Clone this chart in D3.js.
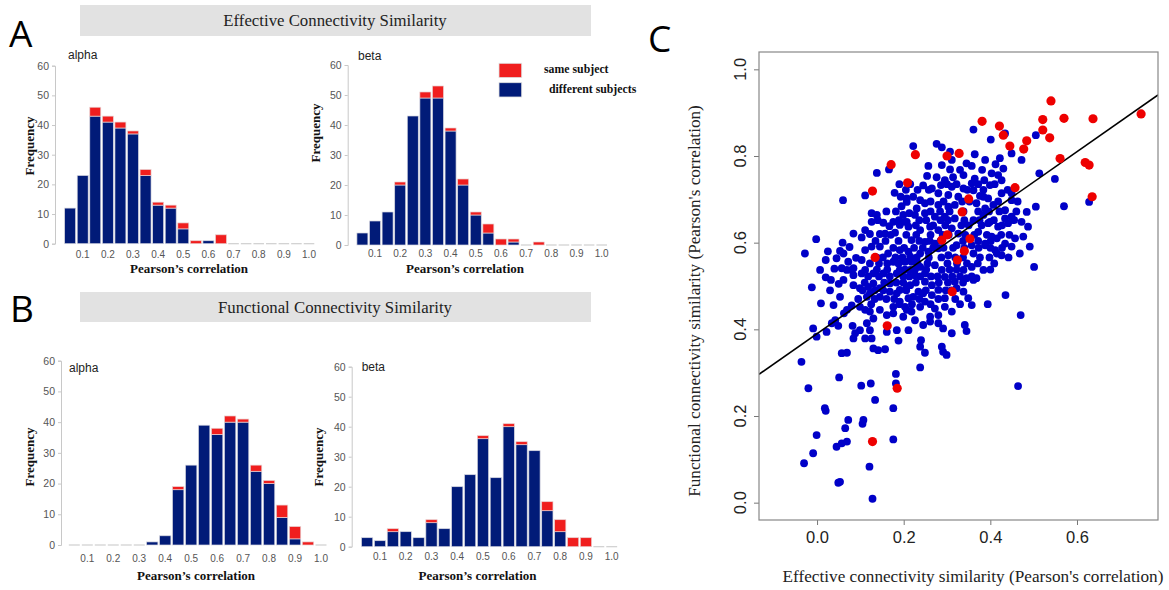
<!DOCTYPE html>
<html>
<head>
<meta charset="utf-8">
<script src="https://cdn.jsdelivr.net/npm/d3@7"></script>
<style>
  body { margin: 0; background: #fff; }
  svg { display: block; }
</style>
</head>
<body>
<svg id="fig" width="1169" height="590"></svg>
<script>
// ---- histogram data (bins of width 0.05, labelled by centre) ----
var binCenters = [0.05,0.10,0.15,0.20,0.25,0.30,0.35,0.40,0.45,0.50,0.55,0.60,0.65,0.70,0.75,0.80,0.85,0.90,0.95,1.00];
var xTickLabels = ["0.1","0.2","0.3","0.4","0.5","0.6","0.7","0.8","0.9","1.0"];
var freqTicks = [0,10,20,30,40,50,60];

var ecAlphaDiff = [12,23,43,41,39,37,23,13,12,5,0,1,0,0,0,0,0,0,0,0];
var ecAlphaSame = [0,0,3,2,2,1,2,1,1,2,1,0,3,0,0,0,0,0,0,0];
var ecBetaDiff  = [4,8,11,20,43,49,49,38,20,10,4,0,1,0,0,0,0,0,0,0];
var ecBetaSame  = [0,0,0,1,0,2,4,1,2,1,3,2,1,0,1,0,0,0,0,0];
var fcAlphaDiff = [0,0,0,0,0,0,1,3,18,26,39,36,40,40,24,20,9,2,0,0];
var fcAlphaSame = [0,0,0,0,0,0,0,0,1,0,0,2,2,1,2,1,4,4,1,0];
var fcBetaDiff  = [3,2,5,5,3,8,6,20,24,36,23,40,34,32,12,5,0,0,0,0];
var fcBetaSame  = [0,0,1,0,0,1,0,0,0,1,0,1,1,0,3,4,3,3,0,0];

// ---- scatter data: [effective, functional] ----
var sameSubject = [
  [0.171,0.780],[0.227,0.803],[0.209,0.738],[0.128,0.719],[0.134,0.566],[0.162,0.408],[0.185,0.264],[0.128,0.141],
  [0.540,0.927],[0.381,0.880],[0.421,0.869],[0.430,0.848],[0.521,0.884],[0.570,0.887],[0.637,0.886],[0.748,0.897],
  [0.521,0.860],[0.537,0.842],[0.445,0.823],[0.484,0.835],[0.477,0.816],[0.300,0.800],[0.328,0.806],[0.561,0.794],
  [0.619,0.785],[0.628,0.779],[0.457,0.727],[0.635,0.706],[0.350,0.701],[0.335,0.671],[0.301,0.618],[0.288,0.606],
  [0.353,0.609],[0.340,0.581],[0.324,0.560],[0.312,0.487]
];
var diffSubject = [
  [0.222,0.823],[0.166,0.769],[0.138,0.761],[0.111,0.709],[0.060,0.698],[0.179,0.715],[0.193,0.706],[0.207,0.702],
  [0.222,0.706],[0.245,0.732],[0.257,0.777],[0.254,0.754],[0.126,0.668],[0.138,0.664],[0.153,0.646],[0.176,0.648],
  [0.126,0.648],[0.084,0.621],[0.111,0.629],[0.103,0.612],[0.122,0.620],[0.145,0.620],[0.157,0.621],[0.180,0.623],
  [0.191,0.641],[0.201,0.648],[0.213,0.668],[0.230,0.679],[0.249,0.691],[0.059,0.600],[-0.002,0.608],[-0.028,0.575],
  [0.020,0.560],[0.045,0.564],[0.061,0.575],[0.111,0.583],[0.126,0.591],[0.145,0.591],[0.164,0.575],[0.191,0.583],
  [0.215,0.568],[0.238,0.575],[0.007,0.537],[0.032,0.514],[0.057,0.541],[0.072,0.556],[0.080,0.537],[0.103,0.560],
  [0.111,0.537],[0.130,0.529],[0.153,0.529],[0.176,0.556],[0.191,0.537],[0.215,0.537],[0.238,0.544],[-0.012,0.497],
  [0.009,0.460],[0.038,0.456],[0.053,0.475],[0.061,0.514],[0.084,0.502],[0.099,0.495],[0.115,0.475],[0.130,0.506],
  [0.145,0.495],[0.168,0.506],[0.184,0.483],[0.207,0.498],[0.222,0.475],[0.245,0.483],[0.069,0.445],[0.099,0.452],
  [0.145,0.445],[0.176,0.452],[0.207,0.445],[0.238,0.452],
  [0.207,0.694],[0.195,0.684],[0.167,0.638],[0.207,0.648],[0.199,0.664],[0.053,0.581],[0.122,0.552],[0.084,0.541],
  [0.069,0.537],[0.103,0.529],[0.203,0.556],
  [0.084,0.525],[0.184,0.529],[0.118,0.498],[0.191,0.491],[0.122,0.483],[0.145,0.475],[0.168,0.487],[0.191,0.464],
  [0.203,0.452],[0.111,0.445],[0.122,0.441],[0.161,0.433],[0.176,0.437],[0.199,0.429],[0.042,0.421],[0.062,0.437],
  [0.034,0.414],[0.049,0.408],[0.082,0.408],[0.115,0.414],[0.130,0.425],[-0.009,0.402],[0.022,0.394],[0.088,0.391],
  [0.099,0.398],[0.122,0.398],[0.161,0.394],[0.184,0.398],[0.211,0.398],[0.084,0.379],[0.111,0.379],[0.126,0.379],
  [0.188,0.374],[0.130,0.356],[0.141,0.352],[0.157,0.354],[0.057,0.345],[0.069,0.346],[-0.036,0.325],[0.051,0.289],
  [-0.020,0.264],[0.102,0.270],[0.124,0.275],[0.182,0.297],[0.182,0.275],[0.134,0.237],[0.018,0.218],[0.176,0.218],
  [-0.001,0.383],[0.020,0.212],[0.072,0.191],[0.065,0.172],[0.107,0.191],[0.105,0.182],[-0.001,0.156],[0.045,0.129],
  [0.057,0.137],[0.069,0.141],[0.176,0.146],[-0.009,0.114],[-0.030,0.091],[0.121,0.083],[0.049,0.046],[0.053,0.048],
  [0.128,0.009],[0.238,0.360],[0.249,0.346],[0.238,0.312],
  [0.361,0.575],[0.388,0.594],[0.411,0.583],[0.426,0.571],[0.449,0.591],[0.468,0.575],[0.338,0.537],[0.357,0.544],
  [0.384,0.537],[0.368,0.518],[0.345,0.518],[0.318,0.510],[0.295,0.521],[0.280,0.491],[0.265,0.502],[0.249,0.510],
  [0.338,0.487],[0.349,0.472],[0.357,0.456],[0.394,0.458],[0.435,0.479],[0.470,0.433],[0.311,0.441],[0.272,0.448],
  [0.261,0.429],[0.280,0.433],[0.295,0.472],[0.249,0.464],[0.218,0.441],[0.261,0.418],[0.280,0.414],[0.291,0.402],
  [0.311,0.391],[0.341,0.410],[0.345,0.396],[0.240,0.375],[0.288,0.360],[0.291,0.348],[0.299,0.341],[0.464,0.269],
  [0.211,0.579],[0.257,0.579],[0.280,0.587],[0.303,0.571],[0.218,0.556],[0.272,0.548],[0.288,0.537],[0.226,0.525],
  [0.249,0.529],[0.215,0.502],[0.234,0.487],[0.265,0.479],[0.211,0.472],[0.295,0.452],[0.226,0.421],[0.245,0.410],
  [0.361,0.861],[0.401,0.838],[0.434,0.852],[0.449,0.806],[0.472,0.791],[0.276,0.828],[0.288,0.820],[0.307,0.810],
  [0.364,0.804],[0.388,0.791],[0.422,0.795],[0.412,0.781],[0.430,0.771],[0.403,0.760],[0.381,0.768],[0.357,0.777],
  [0.330,0.768],[0.307,0.769],[0.288,0.779],[0.276,0.751],[0.295,0.744],[0.314,0.751],[0.338,0.756],[0.364,0.748],
  [0.386,0.744],[0.426,0.744],[0.399,0.733],[0.357,0.737],[0.338,0.725],[0.311,0.729],[0.286,0.733],[0.265,0.725],
  [0.280,0.714],[0.303,0.710],[0.326,0.706],[0.361,0.721],[0.376,0.708],[0.395,0.702],[0.426,0.714],[0.449,0.698],
  [0.238,0.698],[0.280,0.687],[0.303,0.683],[0.318,0.687],[0.368,0.691],[0.388,0.679],[0.407,0.687],[0.434,0.675],
  [0.449,0.660],[0.472,0.648],[0.226,0.664],[0.249,0.668],[0.272,0.660],[0.295,0.660],[0.318,0.656],[0.361,0.652],
  [0.384,0.664],[0.395,0.645],[0.418,0.637],[0.441,0.645],[0.211,0.637],[0.238,0.629],[0.261,0.637],[0.280,0.629],
  [0.311,0.633],[0.326,0.621],[0.372,0.625],[0.388,0.598],[0.415,0.610],[0.434,0.598],[0.457,0.610],[0.218,0.606],
  [0.249,0.602],[0.272,0.598],[0.322,0.594],[0.357,0.594],
  [0.505,0.848],[0.513,0.760],[0.549,0.747],[0.570,0.684],[0.628,0.694],[0.505,0.683],[0.484,0.671],[0.487,0.637],
  [0.476,0.614],[0.491,0.591],[0.501,0.544],[0.434,0.656],[0.415,0.575],[0.403,0.614],[0.399,0.648],[0.449,0.714],
  [0.418,0.756],[0.384,0.706],[0.361,0.514],[0.322,0.495],[0.311,0.791],[0.345,0.783],
  // dense core, where the dots overlap into a solid blob
  [0.190,0.735],[0.215,0.735],[0.300,0.735],[0.322,0.735],[0.372,0.735],[0.410,0.735],
  [0.205,0.722],[0.232,0.722],[0.258,0.722],[0.347,0.722],[0.384,0.722],[0.440,0.722],
  [0.262,0.695],[0.292,0.695],[0.335,0.695],[0.352,0.695],[0.418,0.695],[0.463,0.695],
  [0.160,0.672],[0.182,0.672],[0.262,0.672],[0.284,0.672],[0.306,0.672],[0.338,0.672],[0.372,0.672],[0.397,0.672],
  [0.421,0.672],[0.460,0.672],
  [0.140,0.652],[0.189,0.652],[0.236,0.652],[0.252,0.652],[0.285,0.652],[0.302,0.652],[0.340,0.652],[0.375,0.652],
  [0.408,0.652],[0.455,0.652],
  [0.228,0.640],[0.268,0.640],[0.296,0.640],[0.333,0.640],[0.350,0.640],[0.380,0.640],[0.427,0.640],
  [0.170,0.618],[0.206,0.618],[0.229,0.618],[0.262,0.618],[0.290,0.618],[0.304,0.618],[0.342,0.618],[0.363,0.618],
  [0.392,0.618],[0.425,0.618],[0.444,0.618],
  [0.135,0.604],[0.158,0.604],[0.188,0.604],[0.236,0.604],[0.260,0.604],[0.285,0.604],[0.337,0.604],[0.372,0.604],
  [0.401,0.604],
  [0.176,0.588],[0.201,0.588],[0.224,0.588],[0.244,0.588],[0.268,0.588],[0.292,0.588],[0.314,0.588],[0.340,0.588],
  [0.373,0.588],[0.400,0.588],[0.427,0.588],
  [0.138,0.566],[0.152,0.566],[0.181,0.566],[0.197,0.566],[0.230,0.566],[0.258,0.566],[0.287,0.566],[0.319,0.566],
  [0.337,0.566],[0.376,0.566],[0.398,0.566],[0.442,0.566],
  [0.143,0.552],[0.162,0.552],[0.188,0.552],[0.232,0.552],[0.255,0.552],[0.301,0.552],[0.323,0.552],[0.346,0.552],
  [0.371,0.552],[0.409,0.552],
  [0.138,0.538],[0.162,0.538],[0.203,0.538],[0.226,0.538],[0.252,0.538],[0.306,0.538],[0.322,0.538],[0.400,0.538],
  [0.118,0.522],[0.143,0.522],[0.168,0.522],[0.199,0.522],[0.213,0.522],[0.238,0.522],[0.263,0.522],[0.278,0.522],
  [0.312,0.522],[0.330,0.522],[0.357,0.522],
  [0.110,0.508],[0.155,0.508],[0.183,0.508],[0.199,0.508],[0.228,0.508],[0.281,0.508],[0.302,0.508],[0.337,0.508],
  [0.105,0.490],[0.133,0.490],[0.153,0.490],[0.206,0.490],[0.251,0.490],[0.297,0.490],[0.310,0.490],
  [0.133,0.470],[0.160,0.470],[0.178,0.470],[0.236,0.470],[0.280,0.470],[0.319,0.470],
  [0.125,0.458],[0.190,0.458],[0.219,0.458],[0.262,0.458],[0.330,0.458],
  [0.025,0.580],[0.040,0.540],[0.075,0.590],[0.090,0.565],[0.030,0.490],[0.050,0.505],[0.095,0.470],[0.080,0.455],
  [0.020,0.520]
];
var fitIntercept = 0.39, fitSlope = 0.70;
var scatterXTicks = [0.0,0.2,0.4,0.6];
var scatterYTicks = [0.0,0.2,0.4,0.6,0.8,1.0];

var navy = "#011b78", red = "#f01e1e";
var sansFont = "'Liberation Sans', Arial, sans-serif";
var serifFont = "'Liberation Serif', 'Times New Roman', serif";

var svg = d3.select("#fig");

draw_panel_letters();
draw_title_bar(5, 36, "Effective Connectivity Similarity");
draw_title_bar(292, 322, "Functional Connectivity Similarity");

draw_histogram({axisX: 55, y0: 243.7, y60: 65.7, x01: 82.7, x10: 309, tickY: 258,
  name: "alpha", nameX: 68, nameY: 59, freqX: 29, freqY: 146, labX: 189, labY: 273},
  ecAlphaDiff, ecAlphaSame);
draw_histogram({axisX: 347.7, y0: 245, y60: 65, x01: 375, x10: 601.7, tickY: 257,
  name: "beta", nameX: 358, nameY: 60, freqX: 315, freqY: 133, labX: 465, labY: 273},
  ecBetaDiff, ecBetaSame);
draw_histogram({axisX: 61, y0: 545, y60: 360.7, x01: 87.3, x10: 321, tickY: 561.5,
  name: "alpha", nameX: 69, nameY: 372, freqX: 29, freqY: 457, labX: 196, labY: 580},
  fcAlphaDiff, fcAlphaSame);
draw_histogram({axisX: 351.7, y0: 546.7, y60: 366.7, x01: 380, x10: 611.7, tickY: 560,
  name: "beta", nameX: 361.7, nameY: 371, freqX: 318, freqY: 457, labX: 477.5, labY: 580},
  fcBetaDiff, fcBetaSame);

draw_legend();
draw_scatter();

function draw_panel_letters() {
  var letters = [["A", 9, 47], ["B", 10, 322], ["C", 648, 52]];
  svg.selectAll("text.letter")
    .data(letters)
    .join("text")
      .attr("class", "letter")
      .attr("x", d => d[1])
      .attr("y", d => d[2])
      .attr("font-family", "'Open Sans', sans-serif")
      .attr("font-size", 37)
      .attr("fill", "#000")
      .text(d => d[0]);
}

function draw_title_bar(top, bottom, label) {
  svg.append("rect")
    .attr("x", 80).attr("y", top)
    .attr("width", 511).attr("height", bottom - top)
    .attr("fill", "#e2e2e2");
  svg.append("text")
    .attr("x", 335).attr("y", (top + bottom) / 2 + 5.5)
    .attr("text-anchor", "middle")
    .attr("font-family", serifFont)
    .attr("font-size", 16.8)
    .attr("fill", "#222")
    .text(label);
}

function draw_histogram(cfg, diff, same) {
  var x = d3.scaleLinear().domain([0.1, 1.0]).range([cfg.x01, cfg.x10]);
  var y = d3.scaleLinear().domain([0, 60]).range([cfg.y0, cfg.y60]);
  var half = (x(0.15) - x(0.1)) / 2;
  var g = svg.append("g");

  // y axis
  var yAxis = g.append("g")
    .attr("transform", "translate(" + cfg.axisX + ",0)")
    .call(d3.axisLeft(y).tickValues(freqTicks).tickSize(3).tickPadding(3));
  yAxis.select(".domain").attr("stroke", "#c8c8c8");
  yAxis.selectAll(".tick line").attr("stroke", "#c8c8c8");
  yAxis.selectAll(".tick text")
    .attr("fill", "#555").attr("font-size", 10.5).attr("font-family", sansFont);

  // x tick labels only
  g.selectAll("text.xtick")
    .data(xTickLabels)
    .join("text")
      .attr("class", "xtick")
      .attr("x", d => x(+d))
      .attr("y", cfg.tickY)
      .attr("text-anchor", "middle")
      .attr("font-family", sansFont)
      .attr("font-size", 10)
      .attr("fill", "#555")
      .text(d => d);

  var rows = binCenters.map((c, i) => ({c: c, diff: diff[i], same: same[i]}));

  // empty bins show as a short grey dash on the baseline
  g.selectAll("line.empty")
    .data(rows.filter(d => d.diff + d.same == 0))
    .join("line")
      .attr("x1", d => x(d.c) - half + 1)
      .attr("x2", d => x(d.c) + half - 1)
      .attr("y1", cfg.y0).attr("y2", cfg.y0)
      .attr("stroke", "#cfcfcf").attr("stroke-width", 1.2);

  g.selectAll("rect.diff")
    .data(rows.filter(d => d.diff > 0))
    .join("rect")
      .attr("x", d => x(d.c) - half + 0.8)
      .attr("width", 2 * half - 1.6)
      .attr("y", d => y(d.diff))
      .attr("height", d => y(0) - y(d.diff))
      .attr("fill", navy)
      .attr("stroke", "#d8d8e0").attr("stroke-width", 0.7);

  g.selectAll("rect.same")
    .data(rows.filter(d => d.same > 0))
    .join("rect")
      .attr("x", d => x(d.c) - half + 0.8)
      .attr("width", 2 * half - 1.6)
      .attr("y", d => y(d.diff + d.same))
      .attr("height", d => y(d.diff) - y(d.diff + d.same))
      .attr("fill", red)
      .attr("stroke", "#e8d0d0").attr("stroke-width", 0.7);

  g.append("text")
    .attr("x", cfg.nameX).attr("y", cfg.nameY)
    .attr("font-family", sansFont).attr("font-size", 12).attr("fill", "#222")
    .text(cfg.name);

  g.append("text")
    .attr("transform", "translate(" + cfg.freqX + "," + cfg.freqY + ") rotate(-90)")
    .attr("text-anchor", "middle")
    .attr("dominant-baseline", "central")
    .attr("font-family", serifFont).attr("font-weight", "bold").attr("font-size", 13)
    .attr("fill", "#111")
    .text("Frequency");

  g.append("text")
    .attr("x", cfg.labX).attr("y", cfg.labY)
    .attr("text-anchor", "middle")
    .attr("font-family", serifFont).attr("font-weight", "bold").attr("font-size", 13)
    .attr("fill", "#111")
    .text("Pearson\u2019s correlation");
}

function draw_legend() {
  var items = [["same subject", red, 63.3, 544, 72.5], ["different subjects", navy, 82.7, 549, 93]];
  var g = svg.append("g");
  g.selectAll("rect")
    .data(items)
    .join("rect")
      .attr("x", 499).attr("y", d => d[2])
      .attr("width", 22.7).attr("height", 14.3)
      .attr("fill", d => d[1])
      .attr("stroke", "#e0e0e0").attr("stroke-width", 0.8);
  g.selectAll("text")
    .data(items)
    .join("text")
      .attr("x", d => d[3]).attr("y", d => d[4])
      .attr("font-family", serifFont).attr("font-weight", "bold").attr("font-size", 11.8)
      .attr("fill", "#111")
      .text(d => d[0]);
}

function draw_scatter() {
  var left = 759, right = 1158, top = 52, bottom = 520;
  var x = d3.scaleLinear().domain([-0.134, 0.787]).range([left, right]);
  var y = d3.scaleLinear().domain([-0.04, 1.04]).range([bottom, top]);
  var g = svg.append("g");

  g.append("clipPath").attr("id", "plotclip")
    .append("rect").attr("x", left).attr("y", top)
    .attr("width", right - left).attr("height", bottom - top);

  // bottom ticks and labels
  var xAxis = g.append("g")
    .attr("transform", "translate(0," + bottom + ")")
    .call(d3.axisBottom(x).tickValues(scatterXTicks).tickSize(5).tickPadding(6).tickFormat(d3.format(".1f")));
  xAxis.select(".domain").remove();
  xAxis.selectAll(".tick line").attr("stroke", "#777");
  xAxis.selectAll(".tick text")
    .attr("fill", "#222").attr("font-size", 16.5).attr("font-family", sansFont);

  // left ticks with rotated labels
  var yAxis = g.append("g")
    .attr("transform", "translate(" + left + ",0)")
    .call(d3.axisLeft(y).tickValues(scatterYTicks).tickSize(5).tickFormat(""));
  yAxis.select(".domain").remove();
  yAxis.selectAll(".tick line").attr("stroke", "#777");
  g.selectAll("text.ylab")
    .data(scatterYTicks)
    .join("text")
      .attr("class", "ylab")
      .attr("transform", d => "translate(746," + y(d) + ") rotate(-90)")
      .attr("text-anchor", "middle")
      .attr("font-family", sansFont).attr("font-size", 16.5).attr("fill", "#222")
      .text(d3.format(".1f"));

  var pts = g.append("g").attr("clip-path", "url(#plotclip)");
  pts.selectAll("circle.diff")
    .data(diffSubject)
    .join("circle")
      .attr("cx", d => x(d[0])).attr("cy", d => y(d[1]))
      .attr("r", 3.9)
      .attr("fill", "#0000c8");

  pts.append("line")
    .attr("x1", x(-0.134)).attr("y1", y(fitIntercept + fitSlope * -0.134))
    .attr("x2", x(0.787)).attr("y2", y(fitIntercept + fitSlope * 0.787))
    .attr("stroke", "#000").attr("stroke-width", 1.6);

  pts.selectAll("circle.same")
    .data(sameSubject)
    .join("circle")
      .attr("cx", d => x(d[0])).attr("cy", d => y(d[1]))
      .attr("r", 4.6)
      .attr("fill", "#ee0000");

  g.append("rect")
    .attr("x", left).attr("y", top)
    .attr("width", right - left).attr("height", bottom - top)
    .attr("fill", "none").attr("stroke", "#888").attr("stroke-width", 1.2);

  g.append("text")
    .attr("transform", "translate(700," + ((top + bottom) / 2 + 15) + ") rotate(-90)")
    .attr("text-anchor", "middle")
    .attr("font-family", serifFont).attr("font-size", 17.2).attr("fill", "#222")
    .text("Functional connectivity similarity (Pearson's correlation)");

  g.append("text")
    .attr("x", 973).attr("y", 582)
    .attr("text-anchor", "middle")
    .attr("font-family", serifFont).attr("font-size", 17.2).attr("fill", "#222")
    .text("Effective connectivity similarity (Pearson's correlation)");
}
</script>
</body>
</html>
